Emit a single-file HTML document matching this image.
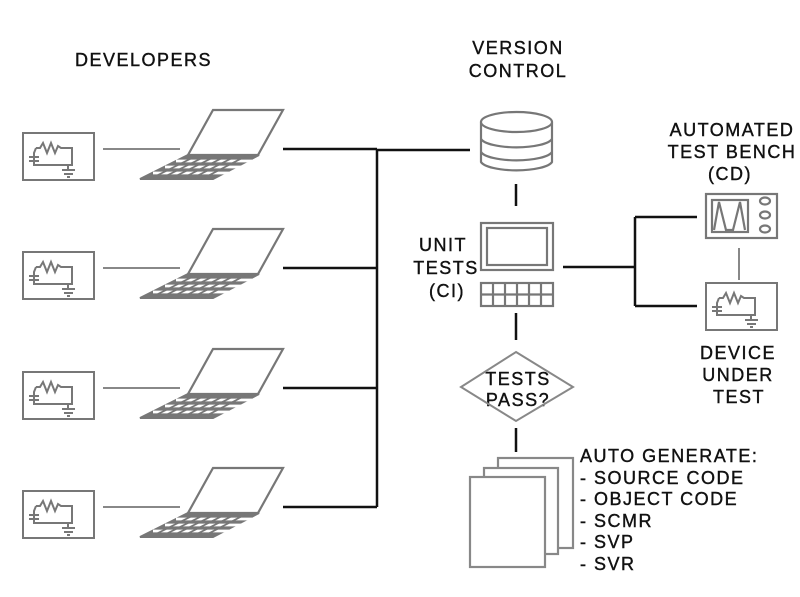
<!DOCTYPE html>
<html><head><meta charset="utf-8"><style>
html,body{margin:0;padding:0;background:#fff;}
svg{display:block}
text{font-family:"Liberation Sans",sans-serif;font-size:18px;fill:#111;stroke:#111;stroke-width:0.4;letter-spacing:1.5px;}
</style></head><body>
<svg width="800" height="597" viewBox="0 0 800 597" xmlns="http://www.w3.org/2000/svg">
<defs>
<g id="circ" fill="none" stroke="#777" stroke-width="2">
  <rect x="23" y="0" width="71" height="47"/>
  <path d="M36,15 L40,15 L43,10 L47,20 L51,10 L55,20 L58,13 L61,15 L72,15 L72,32 L34,32 L34,20 L36,15"/>
  <path d="M29,24 L39,24 M29,28 L39,28"/>
  <path d="M68,32 L68,37 M62,37 L75,37 M64,41 L73,41 M67,44 L70,44"/>
</g>
<g id="dev">
  <use href="#circ" y="23"/>
  <line x1="103" y1="39" x2="180" y2="39" stroke="#888" stroke-width="2"/>
  <path d="M213,0 L283,0 L258,45 L188,45 Z" fill="none" stroke="#777" stroke-width="2.2"/>
  <path d="M188,45 L259,45 L213,69 L140,69 Z" fill="#777" stroke="#777" stroke-width="2"/>
  <g stroke="#fff" stroke-width="2.8">
    <line x1="176" y1="51" x2="252" y2="51"/>
    <line x1="165" y1="57" x2="241" y2="57"/>
    <line x1="153" y1="63" x2="229" y2="63"/>
  </g>
  <g stroke="#777" stroke-width="1.8">
    <line x1="198" y1="45" x2="150" y2="69"/>
    <line x1="208" y1="45" x2="160" y2="69"/>
    <line x1="218" y1="45" x2="170" y2="69"/>
    <line x1="228" y1="45" x2="181" y2="69"/>
    <line x1="238" y1="45" x2="191" y2="69"/>
    <line x1="248" y1="45" x2="202" y2="69"/>
  </g>
  <line x1="283" y1="39" x2="377" y2="39" stroke="#111" stroke-width="2.5"/>
</g>
</defs>

<text x="75" y="66">DEVELOPERS</text>
<text x="518" y="54" text-anchor="middle">VERSION</text>
<text x="518" y="77" text-anchor="middle">CONTROL</text>
<text x="732" y="136" text-anchor="middle">AUTOMATED</text>
<text x="732" y="158" text-anchor="middle">TEST BENCH</text>
<text x="730" y="180" text-anchor="middle">(CD)</text>
<text x="443" y="251" text-anchor="middle">UNIT</text>
<text x="446" y="274" text-anchor="middle">TESTS</text>
<text x="447" y="297" text-anchor="middle">(CI)</text>
<text x="738" y="359" text-anchor="middle">DEVICE</text>
<text x="738" y="381" text-anchor="middle">UNDER</text>
<text x="739" y="403" text-anchor="middle">TEST</text>
<text x="518" y="385" text-anchor="middle">TESTS</text>
<text x="518" y="406" text-anchor="middle">PASS?</text>
<text x="580" y="462">AUTO GENERATE:</text>
<text x="580" y="484">- SOURCE CODE</text>
<text x="580" y="505">- OBJECT CODE</text>
<text x="580" y="527">- SCMR</text>
<text x="580" y="548">- SVP</text>
<text x="580" y="570">- SVR</text>

<use href="#dev" y="110"/>
<use href="#dev" y="229"/>
<use href="#dev" y="349"/>
<use href="#dev" y="468"/>

<g stroke="#111" stroke-width="2.5" fill="none">
  <line x1="377" y1="149" x2="377" y2="507"/>
  <line x1="377" y1="150" x2="470" y2="150"/>
  <line x1="516" y1="184" x2="516" y2="206"/>
  <line x1="516" y1="313" x2="516" y2="340"/>
  <line x1="516" y1="428" x2="516" y2="452"/>
  <line x1="563" y1="267" x2="635" y2="267"/>
  <line x1="635" y1="217" x2="635" y2="306"/>
  <line x1="635" y1="217" x2="697" y2="217"/>
  <line x1="635" y1="306" x2="697" y2="306"/>
</g>

<g stroke="#777" stroke-width="2.2" fill="#fff">
  <path d="M481,122 L481,162 A36,10 0 0 0 552,162 L552,122"/>
  <ellipse cx="516.5" cy="122" rx="35.5" ry="10"/>
  <path d="M481,139 A36,10 0 0 0 552,139" fill="none"/>
  <path d="M481,152 A36,10 0 0 0 552,152" fill="none"/>
</g>

<g stroke="#777" stroke-width="2.2" fill="none">
  <rect x="481" y="223" width="72" height="47"/>
  <rect x="487" y="228" width="60" height="37"/>
  <rect x="481" y="283" width="72" height="23"/>
  <line x1="481" y1="294.5" x2="553" y2="294.5"/>
  <line x1="493" y1="283" x2="493" y2="306"/>
  <line x1="505" y1="283" x2="505" y2="306"/>
  <line x1="517" y1="283" x2="517" y2="306"/>
  <line x1="529" y1="283" x2="529" y2="306"/>
  <line x1="541" y1="283" x2="541" y2="306"/>
</g>

<path d="M516,352 L573,387 L516,421 L461,387 Z" fill="none" stroke="#888" stroke-width="2"/>

<g stroke="#888" stroke-width="2.2" fill="#fff">
  <rect x="498" y="458" width="75" height="90"/>
  <rect x="484" y="468" width="74" height="86"/>
  <rect x="470" y="477" width="75" height="90"/>
</g>

<g stroke="#777" stroke-width="2.2" fill="none">
  <rect x="706" y="194" width="71" height="44"/>
  <rect x="712" y="200" width="36" height="32"/>
  <path d="M714,230 L719,202 L726,230 L733,230 L740,202 L745,230"/>
  <ellipse cx="765" cy="201" rx="5" ry="3.5"/>
  <ellipse cx="765" cy="215" rx="5" ry="3.5"/>
  <ellipse cx="765" cy="229" rx="5" ry="3.5"/>
</g>
<line x1="739" y1="248" x2="739" y2="280" stroke="#888" stroke-width="2"/>
<use href="#circ" x="683" y="283"/>
</svg>
</body></html>
